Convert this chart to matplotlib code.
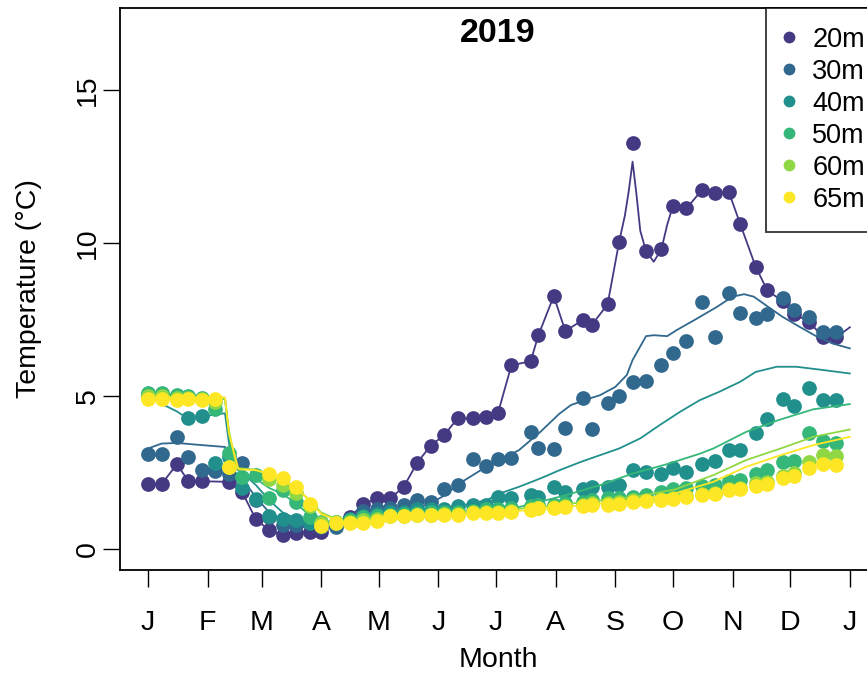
import numpy as np
import matplotlib
matplotlib.use("Agg")
import matplotlib.pyplot as plt
from matplotlib.lines import Line2D

plt.rcParams["font.family"] = ["Liberation Sans", "DejaVu Sans"]

nan = np.nan

# Sampling days (day of year, 2019)
days = [1, 8, 16, 22, 29, 36, 43, 50, 57, 64, 71, 78, 85, 91, 99, 106, 113, 120,
        127, 134, 141, 148, 155, 162, 170, 177, 183, 190, 200, 204, 212, 218, 227,
        232, 240, 246, 253, 260, 268, 274, 281, 289, 296, 303, 309, 317, 323, 331,
        337, 345, 352, 359]

# Observed temperatures (deg C) at each depth
temp_20m = [2.12, 2.12, 2.78, 2.22, 2.22, nan, 2.20, 1.86, 0.98, 0.62, 0.46, 0.52,
            0.55, 0.56, 0.85, 1.05, 1.47, 1.66, 1.66, 2.04, 2.83, 3.38, 3.73, 4.27,
            4.27, 4.32, 4.45, 6.01, 6.14, 6.99, 8.27, 7.13, 7.48, 7.34, 8.00, 10.04,
            13.26, 9.74, 9.80, 11.22, 11.13, 11.73, 11.64, 11.68, 10.62, 9.23, 8.46,
            8.10, 7.68, 7.43, 6.92, 6.92]
temp_30m = [3.10, 3.10, 3.65, 3.00, 2.60, 2.55, 2.45, 2.80, 1.60, 1.06, 0.78, 0.78,
            0.84, 0.72, 0.73, 0.95, 1.25, 1.30, 1.35, 1.45, 1.60, 1.55, 1.98, 2.09,
            2.93, 2.71, 2.96, 2.98, 3.82, 3.32, 3.26, 3.95, 4.94, 3.93, 4.76, 5.00,
            5.47, 5.50, 6.03, 6.42, 6.81, 8.08, 6.94, 8.36, 7.72, 7.54, 7.67, 8.19,
            7.83, 7.59, 7.10, 7.10]
temp_40m = [5.07, 5.07, 5.00, 4.27, 4.35, 2.80, 3.00, 2.00, 1.65, 1.10, 1.00, 0.95,
            0.85, 0.80, 0.88, 1.00, 1.10, 1.15, 1.20, 1.22, 1.30, 1.30, 1.30, 1.40,
            1.44, 1.44, 1.71, 1.68, 1.78, 1.70, 2.04, 1.88, 1.98, 2.04, 2.04, 2.09,
            2.58, 2.53, 2.47, 2.66, 2.53, 2.78, 2.88, 3.24, 3.24, 3.80, 4.24, 4.92,
            4.67, 5.27, 4.89, 4.89]
temp_50m = [5.09, 5.09, 5.05, 5.00, 4.95, 4.57, 3.13, 2.36, 2.42, 1.66, 1.93, 1.55,
            1.06, 0.90, 0.85, 0.95, 1.05, 1.10, 1.12, 1.15, 1.18, 1.20, 1.20, 1.22,
            1.25, 1.30, 1.30, 1.35, 1.40, 1.45, 1.45, 1.50, 1.55, 1.60, 1.66, 1.68,
            1.71, 1.76, 1.87, 1.98, 2.00, 2.07, 2.09, 2.22, 2.25, 2.47, 2.60, 2.85,
            2.87, 3.78, 3.52, 3.46]
temp_60m = [5.00, 5.00, 4.95, 4.95, 4.90, 4.80, 2.70, nan, nan, 2.30, 2.10, 1.85,
            1.40, 0.85, 0.88, 0.90, 0.95, 1.00, 1.10, 1.10, 1.12, 1.13, 1.15, 1.15,
            1.20, 1.20, 1.22, 1.25, 1.30, 1.35, 1.38, 1.42, 1.45, 1.50, 1.52, 1.55,
            1.60, 1.62, 1.65, 1.66, 1.75, 1.80, 1.82, 1.95, 2.00, 2.15, 2.20, 2.40,
            2.50, 2.85, 3.07, 3.04]
temp_65m = [4.92, 4.92, 4.89, 4.92, 4.89, 4.92, 2.69, nan, nan, 2.47, 2.31, 2.02,
            1.49, 0.76, 0.84, 0.86, 0.86, 0.92, 1.08, 1.08, 1.11, 1.11, 1.13, 1.13,
            1.17, 1.17, 1.19, 1.20, 1.27, 1.33, 1.35, 1.38, 1.41, 1.44, 1.44, 1.49,
            1.55, 1.58, 1.62, 1.65, 1.71, 1.76, 1.80, 1.93, 1.98, 2.06, 2.12, 2.31,
            2.39, 2.64, 2.78, 2.75]

# Fitted seasonal curves (day of year, deg C)
fit_days_20m = [1, 8, 16, 22, 29, 43, 50, 57, 64, 71, 78, 85, 91, 99, 106, 113, 120,
                127, 134, 141, 148, 155, 162, 170, 177, 183, 190, 200, 204, 212, 218,
                227, 232, 240, 246, 249, 251, 253, 255, 257, 260, 264, 268, 271, 274,
                281, 289, 296, 303, 309, 317, 323, 331, 337, 345, 352, 359, 366]
fit_20m = [2.12, 2.12, 2.78, 2.22, 2.22, 2.20, 1.86, 0.98, 0.62, 0.46, 0.52, 0.55,
           0.56, 0.85, 1.05, 1.47, 1.66, 1.66, 2.04, 2.83, 3.38, 3.73, 4.27, 4.27,
           4.32, 4.45, 6.01, 6.14, 6.99, 8.27, 7.13, 7.48, 7.34, 8.00, 10.04, 10.9,
           11.7, 12.66, 11.6, 10.4, 9.74, 9.39, 9.80, 10.6, 11.22, 11.13, 11.73,
           11.64, 11.68, 10.62, 9.23, 8.46, 8.10, 7.68, 7.43, 6.92, 6.92, 7.25]

fit_days_30m = [1, 8, 16, 29, 41, 44, 50, 57, 64, 71, 78, 85, 91, 99, 113, 127, 141,
                148, 155, 163, 174, 184, 194, 205, 215, 221, 229, 236, 244, 250, 253,
                260, 264, 271, 276, 285, 297, 305, 311, 316, 323, 331, 340, 349, 357,
                366]
fit_30m = [3.29, 3.45, 3.47, 3.40, 3.34, 2.60, 2.30, 1.70, 1.20, 0.90, 0.75, 0.70,
           0.70, 0.75, 0.90, 1.10, 1.35, 1.50, 1.75, 2.15, 2.58, 2.91, 3.24, 3.83,
           4.43, 4.71, 4.89, 5.03, 5.30, 5.69, 6.18, 6.96, 6.99, 6.96, 7.16, 7.48,
           7.92, 8.25, 8.33, 8.25, 7.94, 7.59, 7.26, 6.94, 6.72, 6.56]

fit_days_40m = [1, 8, 16, 22, 29, 36, 41, 43, 45, 50, 57, 64, 71, 78, 85, 91, 106,
                120, 134, 148, 162, 177, 184, 194, 205, 215, 226, 236, 246, 257, 267,
                278, 288, 298, 309, 317, 328, 338, 350, 366]
fit_40m = [5.07, 4.75, 4.50, 4.25, 4.33, 4.40, 4.44, 3.50, 2.70, 2.50, 2.10, 1.60,
           1.20, 1.00, 0.85, 0.80, 0.90, 1.00, 1.10, 1.25, 1.40, 1.60, 1.82, 2.04,
           2.31, 2.58, 2.85, 3.07, 3.29, 3.62, 4.05, 4.50, 4.87, 5.14, 5.47, 5.79,
           5.96, 5.96, 5.87, 5.74]

fit_days_50m = [1, 22, 36, 41, 43, 45, 50, 57, 64, 71, 78, 85, 91, 99, 113, 127, 141,
                155, 170, 184, 201, 218, 236, 253, 271, 288, 295, 312, 329, 347, 366]
fit_50m = [5.10, 5.05, 4.95, 4.90, 3.80, 2.90, 2.50, 2.30, 2.00, 1.80, 1.50, 1.10,
           0.85, 0.85, 0.95, 1.05, 1.10, 1.15, 1.20, 1.22, 1.49, 1.76, 2.09, 2.47,
           2.78, 3.12, 3.29, 3.83, 4.22, 4.57, 4.74]

fit_days_60m = [1, 41, 43, 47, 57, 64, 71, 78, 85, 91, 99, 106, 120, 141, 170, 200,
                230, 255, 275, 295, 312, 330, 347, 366]
fit_60m = [5.00, 4.95, 3.90, 2.65, 2.60, 2.45, 2.25, 2.00, 1.60, 1.20, 0.98, 0.88,
           0.95, 1.10, 1.22, 1.35, 1.55, 1.72, 1.95, 2.42, 2.91, 3.29, 3.67, 3.91]

fit_days_65m = [1, 41, 43, 48, 57, 64, 71, 78, 85, 91, 99, 106, 113, 141, 170, 200,
                230, 255, 275, 295, 312, 330, 347, 366]
fit_65m = [4.95, 4.95, 3.80, 2.61, 2.58, 2.45, 2.25, 2.00, 1.60, 1.15, 0.95, 0.84,
           0.88, 1.05, 1.15, 1.28, 1.45, 1.60, 1.82, 2.20, 2.69, 3.07, 3.40, 3.67]

depth_labels = ["20m", "30m", "40m", "50m", "60m", "65m"]
depth_colors = ["#443A83", "#31688E", "#21908C", "#35B779", "#8FD744", "#FDE725"]

month_ticks = [1, 32, 60, 91, 121, 152, 182, 213, 244, 274, 305, 335, 366]
month_labels = ["J", "F", "M", "A", "M", "J", "J", "A", "S", "O", "N", "D", "J"]
temp_ticks = [0, 5, 10, 15]

observed = [temp_20m, temp_30m, temp_40m, temp_50m, temp_60m, temp_65m]
fit_days = [fit_days_20m, fit_days_30m, fit_days_40m, fit_days_50m, fit_days_60m,
            fit_days_65m]
fits = [fit_20m, fit_30m, fit_40m, fit_50m, fit_60m, fit_65m]

W, H = 867, 674
fig = plt.figure(figsize=(W / 100, H / 100), dpi=100)
ax_left, ax_right, ax_top, ax_bottom = 120, 876, 8, 570
ax_w = ax_right - ax_left
ax = fig.add_axes([ax_left / W, 1 - ax_bottom / H, ax_w / W,
                   (ax_bottom - ax_top) / H])

for i, (obs, fd, fv, col) in enumerate(zip(observed, fit_days, fits, depth_colors)):
    ax.plot(days, obs, linestyle="none", marker="o", markersize=10.6,
            markerfacecolor=col, markeredgecolor=col, markeredgewidth=0,
            zorder=2 + 2 * i)
    ax.plot(fd, fv, color=col, linewidth=1.3, zorder=3 + 2 * i)

ax.set_xlim(-13.6, 379.6)
ax.set_ylim(-0.68, 17.68)

ax.set_xticks(month_ticks)
ax.set_xticklabels(month_labels)
ax.set_yticks(temp_ticks)
ax.set_yticklabels([str(t) for t in temp_ticks], rotation=90, va="center")

ax.tick_params(axis="both", direction="out", length=12, width=1.0, color="black",
               labelsize=20.5)
ax.tick_params(axis="x", pad=17)
ax.tick_params(axis="y", pad=2)
for sp in ax.spines.values():
    sp.set_linewidth(1.3)
    sp.set_color("black")

fig.text(498 / W, 1 - 660 / H, "Month", ha="center", va="center", fontsize=20.5)
fig.text(29 / W, 1 - 289 / H, "Temperature (°C)", ha="center", va="center",
         rotation=90, fontsize=20.5)
fig.text(498 / W, 1 - 33 / H, "2019", ha="center", va="center", fontsize=24.5,
         fontweight="bold")

handles = [Line2D([], [], linestyle="none", marker="o", markersize=8.5,
                  markerfacecolor=c, markeredgewidth=0, color=c)
           for c in depth_colors]
leg = ax.legend(handles, depth_labels, loc="upper right",
                bbox_to_anchor=(1 + 8 / ax_w, 1.0), borderaxespad=0,
                fontsize=19.5, frameon=True, fancybox=False, edgecolor="black",
                handlelength=0.3, handletextpad=0.7, labelspacing=0.22,
                borderpad=0.7)
leg.get_frame().set_linewidth(1.3)
leg.set_zorder(20)

fig.savefig("out.png", dpi=100)
